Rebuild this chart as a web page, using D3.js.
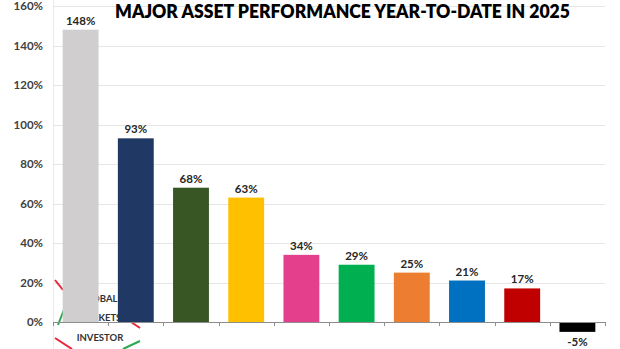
<!DOCTYPE html>
<html><head><meta charset="utf-8">
<script src="https://cdn.jsdelivr.net/npm/d3@7"></script>
<style>html,body{margin:0;padding:0;background:#fff;}svg{display:block;}</style>
</head><body>
<svg id="chart" width="620" height="349"></svg>
<script>
const categories = ["A1","A2","A3","A4","A5","A6","A7","A8","A9","A10"];
const values = [148, 93, 68, 63, 34, 29, 25, 21, 17, -5];
const colors = ["#d0cece","#1f3864","#375623","#ffc000","#e43f8c","#00b050","#ed7d31","#0070c0","#c00000","#000000"];
const yTicks = [0,20,40,60,80,100,120,140,160];
const title = "MAJOR ASSET PERFORMANCE YEAR-TO-DATE IN 2025";

(function(){
const svg = d3.select("#chart");
const mLeft = 53, mRight = 605, mTop = 6, zeroY = 322;
const y = d3.scaleLinear().domain([0,160]).range([zeroY, mTop]);
const x = d3.scaleBand().domain(categories).range([mLeft,mRight]).paddingInner(0.35).paddingOuter(0.175);
const font = "Lato, 'Open Sans', sans-serif";

svg.append("line").attr("x1",mLeft+0.5).attr("x2",mLeft+0.5).attr("y1",0).attr("y2",349).attr("stroke","#ececec").attr("stroke-width",1);

svg.append("g").selectAll("line").data(yTicks.filter(d=>d>0)).join("line")
  .attr("x1",mLeft).attr("x2",mRight).attr("y1",d=>Math.round(y(d))+0.5).attr("y2",d=>Math.round(y(d))+0.5)
  .attr("stroke","#e6e6e6").attr("stroke-width",1);

svg.append("g").selectAll("text").data(yTicks).join("text")
  .attr("x",43).attr("y",d=>y(d)+4).attr("text-anchor","end")
  .attr("font-family",font).attr("font-weight",700).attr("font-size",11.5).attr("fill","#404040")
  .text(d=>d+"%");

const logo = svg.append("g");
const lt = [["GLOBAL",99,302],["MARKETS",99,321],["INVESTOR",100,341]];
logo.selectAll("text").data(lt).join("text")
  .attr("x",d=>d[1]).attr("y",d=>d[2]).attr("text-anchor","middle")
  .attr("font-family",font).attr("font-weight",700).attr("font-size",9.5).attr("fill","#333")
  .text(d=>d[0]);
const segs = [[55,280,63,290,"#e8233a"],[58,325,65,307,"#2ea84f"],[128,320,140,328,"#e8233a"],[55,338,72,349,"#e8233a"],[123,349,140,341,"#2ea84f"]];
logo.selectAll("line").data(segs).join("line")
  .attr("x1",d=>d[0]).attr("y1",d=>d[1]).attr("x2",d=>d[2]).attr("y2",d=>d[3])
  .attr("stroke",d=>d[4]).attr("stroke-width",2);

svg.append("g").selectAll("rect").data(values).join("rect")
  .attr("x",(d,i)=>x(categories[i])).attr("width",x.bandwidth())
  .attr("y",d=>y(Math.max(0,d))).attr("height",d=>Math.abs(y(d)-y(0)))
  .attr("fill",(d,i)=>colors[i]);

svg.append("line").attr("x1",mLeft).attr("x2",mRight).attr("y1",zeroY+0.5).attr("y2",zeroY+0.5).attr("stroke","#8c8c8c").attr("stroke-width",1);
const bounds = d3.range(categories.length+1).map(i=>mLeft + i*x.step());
svg.append("g").selectAll("line").data(bounds).join("line")
  .attr("x1",d=>Math.round(d)+0.5).attr("x2",d=>Math.round(d)+0.5).attr("y1",zeroY).attr("y2",zeroY+4)
  .attr("stroke","#8c8c8c").attr("stroke-width",1);

svg.append("g").selectAll("text").data(values).join("text")
  .attr("x",(d,i)=>x(categories[i])+x.bandwidth()/2)
  .attr("y",d=> d>=0 ? y(d)-5 : y(d)+14)
  .attr("text-anchor","middle")
  .attr("font-family",font).attr("font-weight",700).attr("font-size",11.5).attr("fill","#262626")
  .text(d=>d+"%");

svg.append("text").attr("x",342.5).attr("y",18).attr("text-anchor","middle")
  .attr("font-family",font).attr("font-weight",800).attr("font-size",19)
  .attr("textLength",455).attr("lengthAdjust","spacingAndGlyphs").attr("fill","#000")
  .text(title);
})();
</script>
</body></html>
